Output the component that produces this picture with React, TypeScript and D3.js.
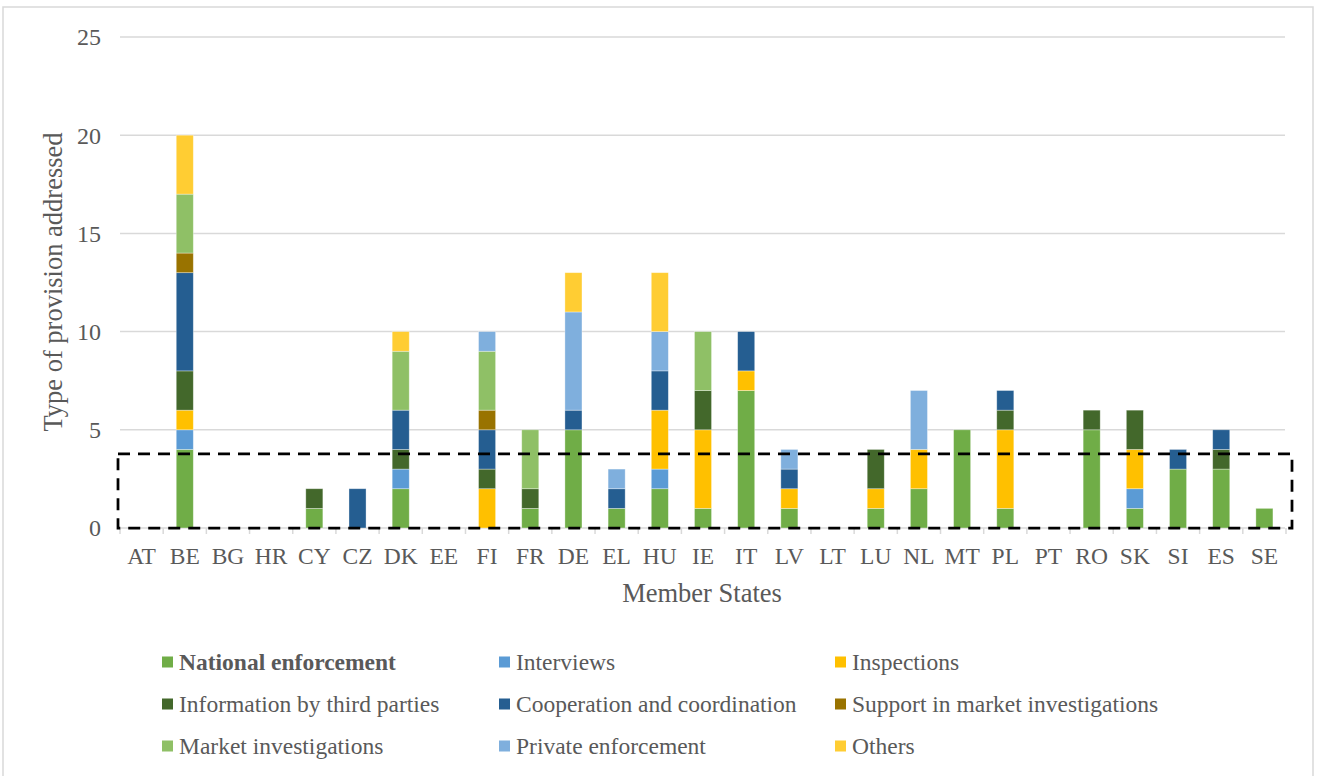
import React from "react";
import * as d3 from "d3";

// Member States along the x axis
const states = ["AT", "BE", "BG", "HR", "CY", "CZ", "DK", "EE", "FI", "FR", "DE", "EL", "HU", "IE", "IT", "LV", "LT", "LU", "NL", "MT", "PL", "PT", "RO", "SK", "SI", "ES", "SE"];

// Series, stacked bottom to top, one value per Member State
const nationalEnforcement = [0, 4, 0, 0, 1, 0, 2, 0, 0, 1, 5, 1, 2, 1, 7, 1, 0, 1, 2, 5, 1, 0, 5, 1, 3, 3, 1];
const interviews =          [0, 1, 0, 0, 0, 0, 1, 0, 0, 0, 0, 0, 1, 0, 0, 0, 0, 0, 0, 0, 0, 0, 0, 1, 0, 0, 0];
const inspections =         [0, 1, 0, 0, 0, 0, 0, 0, 2, 0, 0, 0, 3, 4, 1, 1, 0, 1, 2, 0, 4, 0, 0, 2, 0, 0, 0];
const thirdPartyInfo =      [0, 2, 0, 0, 1, 0, 1, 0, 1, 1, 0, 0, 0, 2, 0, 0, 0, 2, 0, 0, 1, 0, 1, 2, 0, 1, 0];
const cooperation =         [0, 5, 0, 0, 0, 2, 2, 0, 2, 0, 1, 1, 2, 0, 2, 1, 0, 0, 0, 0, 1, 0, 0, 0, 1, 1, 0];
const supportMarketInv =    [0, 1, 0, 0, 0, 0, 0, 0, 1, 0, 0, 0, 0, 0, 0, 0, 0, 0, 0, 0, 0, 0, 0, 0, 0, 0, 0];
const marketInvestigations =[0, 3, 0, 0, 0, 0, 3, 0, 3, 3, 0, 0, 0, 3, 0, 0, 0, 0, 0, 0, 0, 0, 0, 0, 0, 0, 0];
const privateEnforcement =  [0, 0, 0, 0, 0, 0, 0, 0, 1, 0, 5, 1, 2, 0, 0, 1, 0, 0, 3, 0, 0, 0, 0, 0, 0, 0, 0];
const others =              [0, 3, 0, 0, 0, 0, 1, 0, 0, 0, 2, 0, 3, 0, 0, 0, 0, 0, 0, 0, 0, 0, 0, 0, 0, 0, 0];

const seriesNames = [
  "National enforcement",
  "Interviews",
  "Inspections",
  "Information by third parties",
  "Cooperation and coordination",
  "Support in market investigations",
  "Market investigations",
  "Private enforcement",
  "Others",
];
const seriesValues = [
  nationalEnforcement, interviews, inspections, thirdPartyInfo, cooperation,
  supportMarketInv, marketInvestigations, privateEnforcement, others,
];
const seriesColors = [
  "#70AD47", "#5B9BD5", "#FFC000", "#43682B", "#255E91",
  "#997300", "#8FC066", "#7FAFDD", "#FFCD33",
];

const yTicks = [0, 5, 10, 15, 20, 25];
const highlightLevel = 3.78; // top edge of the dashed frame, in axis units

const W = 1319;
const H = 776;
const FONT = "'Liberation Serif', 'Times New Roman', serif";
const TEXT = "#595959";
const GRID = "#D9D9D9";

export default function App() {
  const x = d3.scaleBand<string>().domain(states).range([120, 1286]).padding(0);
  const y = d3.scaleLinear().domain([0, 25]).range([528, 37]);
  const barW = x.bandwidth() * 0.395;

  const rows = states.map((s, i) => {
    const r: Record<string, number | string> = { state: s };
    seriesNames.forEach((n, k) => (r[n] = seriesValues[k][i]));
    return r;
  });
  const stacked = d3.stack<Record<string, number | string>>().keys(seriesNames)(rows as any);

  const boundaries = d3.range(states.length + 1).map((i) => 120 + i * x.step());

  const legendCols = [162, 499, 835];
  const legendRows = [662, 704, 746];

  return (
    <svg width={W} height={H} style={{ position: "absolute", left: 0, top: 0, display: "block" }} fontFamily={FONT}>
      <rect x={0} y={0} width={W} height={H} fill="#fff" />
      <rect x={3} y={7} width={1310} height={H + 10} fill="none" stroke={GRID} strokeWidth={1.5} />

      {/* gridlines */}
      {yTicks.map((t) => (
        <line key={t} x1={120} x2={1285} y1={y(t)} y2={y(t)} stroke={GRID} strokeWidth={1.5} />
      ))}
      {/* y tick labels */}
      {yTicks.map((t) => (
        <text key={"l" + t} x={101} y={y(t)} dy="0.35em" textAnchor="end" fontSize={24} fill={TEXT}>
          {t}
        </text>
      ))}

      {/* category tick marks */}
      {boundaries.map((bx, i) => (
        <line key={"tk" + i} x1={bx} x2={bx} y1={528} y2={534} stroke={GRID} strokeWidth={1.5} />
      ))}

      {/* stacked bars */}
      {stacked.map((layer, k) => (
        <g key={layer.key} fill={seriesColors[k]}>
          {layer.map((seg, i) => {
            const h = y(seg[0]) - y(seg[1]);
            if (h <= 0) return null;
            const cx = (x(states[i]) as number) + x.bandwidth() / 2;
            return (
              <rect
                key={i}
                x={cx - barW / 2}
                y={y(seg[1])}
                width={barW}
                height={h}
                stroke="#ffffff"
                strokeOpacity={0.45}
                strokeWidth={0.75}
              />
            );
          })}
        </g>
      ))}

      {/* category labels */}
      {states.map((s) => (
        <text key={"c" + s} x={(x(s) as number) + x.bandwidth() / 2} y={564} textAnchor="middle" fontSize={23.5} fill={TEXT}>
          {s}
        </text>
      ))}

      {/* dashed frame around the low values */}
      <rect
        x={118}
        y={y(highlightLevel)}
        width={1292 - 118}
        height={y(0) - y(highlightLevel)}
        fill="none"
        stroke="#000"
        strokeWidth={2.75}
        strokeDasharray="12 8"
      />

      {/* axis titles */}
      <text x={702} y={602} textAnchor="middle" fontSize={26.5} fill={TEXT}>
        Member States
      </text>
      <text transform="translate(62,282) rotate(-90)" textAnchor="middle" fontSize={26.5} fill={TEXT}>
        Type of provision addressed
      </text>

      {/* legend */}
      {seriesNames.map((n, k) => {
        const lx = legendCols[k % 3];
        const ly = legendRows[Math.floor(k / 3)];
        return (
          <g key={"lg" + n}>
            <rect x={lx} y={ly - 5.5} width={11} height={11} fill={seriesColors[k]} />
            <text x={lx + 17} y={ly} dy="0.35em" fontSize={23.5} fill={TEXT} fontWeight={k === 0 ? "bold" : "normal"}>
              {n}
            </text>
          </g>
        );
      })}
    </svg>
  );
}
